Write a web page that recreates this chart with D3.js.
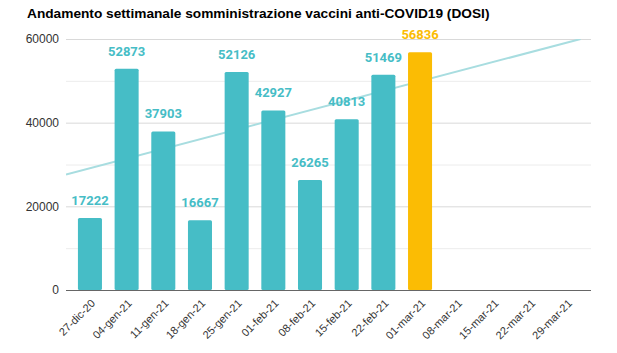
<!DOCTYPE html>
<html><head><meta charset="utf-8">
<script src="https://cdn.jsdelivr.net/npm/d3@7"></script>
<style>body{margin:0;background:#fff}svg{display:block}</style>
</head><body>
<svg id="c" width="617" height="353"></svg>
<script>
const categories = ["27-dic-20","04-gen-21","11-gen-21","18-gen-21","25-gen-21","01-feb-21","08-feb-21","15-feb-21","22-feb-21","01-mar-21","08-mar-21","15-mar-21","22-mar-21","29-mar-21"];
const doses = [17222,52873,37903,16667,52126,42927,26265,40813,51469,56836];
const highlightIndex = 9;
const yTicks = [0,20000,40000,60000];
const gridTicks = [0,10000,20000,30000,40000,50000,60000];
const title = "Andamento settimanale somministrazione vaccini anti-COVID19 (DOSI)";

const svg = d3.select("#c");
const L = 66, R = 591, T = 39, B = 290;
const x = d3.scaleBand().domain(categories).range([L+5.7, R-6]).paddingInner(0.345).paddingOuter(0.17);
const y = d3.scaleLinear().domain([0,60000]).range([B,T]);
const teal = "#46bdc6", yellow = "#fbbc04";

svg.append("text").attr("x",27).attr("y",18).attr("font-family","Liberation Sans, Arial, sans-serif")
  .attr("font-weight","bold").attr("font-size",13.7).attr("fill","#000").text(title);

// grid
svg.append("g").selectAll("line").data(gridTicks.filter(d=>d>0)).join("line")
  .attr("x1",L).attr("x2",R).attr("y1",d=>y(d)+0.5).attr("y2",d=>y(d)+0.5)
  .attr("stroke",d=>yTicks.includes(d)?"#d9d9d9":"#ececec").attr("stroke-width",1);

// y labels
svg.append("g").selectAll("text").data(yTicks).join("text")
  .attr("x",59).attr("y",d=>y(d)).attr("dy","0.35em").attr("text-anchor","end")
  .attr("font-family","Liberation Sans, Arial, sans-serif").attr("font-size",12).attr("fill","#333")
  .text(d=>d);

// linear trend (least squares over the data), drawn behind the bars
const n = doses.length, mx = (n-1)/2, my = d3.mean(doses);
const slope = d3.sum(doses,(d,i)=>(i-mx)*(d-my))/d3.sum(doses,(d,i)=>(i-mx)*(i-mx));
const icpt = my - slope*mx;
const step = x.step(), c0 = x(categories[0])+x.bandwidth()/2;
const valAtPx = px => icpt + slope*(px-c0)/step;
const xEnd = c0 + ((60000-icpt)/slope)*step;
svg.append("defs").append("clipPath").attr("id","pc").append("rect").attr("x",L).attr("y",T).attr("width",R-L).attr("height",B-T);
svg.append("line").attr("clip-path","url(#pc)")
  .attr("x1",L).attr("y1",y(valAtPx(L))).attr("x2",Math.min(xEnd,R)).attr("y2",y(valAtPx(Math.min(xEnd,R))))
  .attr("stroke","#a8dde0").attr("stroke-width",2);

// bars
svg.append("g").selectAll("rect").data(doses).join("rect")
  .attr("x",(d,i)=>x(categories[i])).attr("width",x.bandwidth())
  .attr("y",d=>y(d)).attr("height",d=>B-y(d)).attr("rx",1.5)
  .attr("fill",(d,i)=>i===highlightIndex?yellow:teal);

// value labels
svg.append("g").selectAll("text").data(doses).join("text")
  .attr("x",(d,i)=>x(categories[i])+x.bandwidth()/2).attr("y",d=>y(d)-13)
  .attr("text-anchor","middle").attr("font-family","Roboto, Arial, sans-serif").attr("font-weight","bold")
  .attr("font-size",13).attr("fill",(d,i)=>i===highlightIndex?yellow:teal).text(d=>d);

// axis line
svg.append("line").attr("x1",L).attr("x2",R).attr("y1",B+0.5).attr("y2",B+0.5).attr("stroke","#666").attr("stroke-width",1.2);

// x labels
svg.append("g").selectAll("text").data(categories).join("text")
  .attr("transform",d=>`translate(${x(d)+x.bandwidth()/2+6},${B+14}) rotate(-45)`)
  .attr("text-anchor","end").attr("font-family","Liberation Sans, Arial, sans-serif").attr("font-size",11)
  .attr("fill","#333").text(d=>d);
</script>
</body></html>
